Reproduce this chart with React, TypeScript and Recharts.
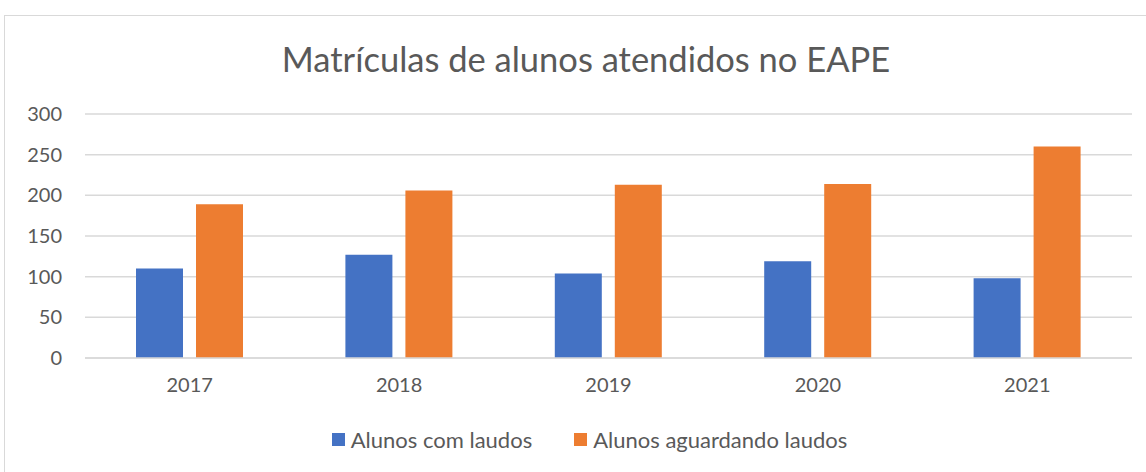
import React from 'react';
import { BarChart, Bar, XAxis, YAxis, CartesianGrid } from 'recharts';

const years = ['2017', '2018', '2019', '2020', '2021'];
const comLaudos = [110, 127, 104, 119, 98];
const aguardandoLaudos = [189, 206, 213, 214, 260];
const yTicks = [0, 50, 100, 150, 200, 250, 300];

const series = [
  { key: 'comLaudos', name: 'Alunos com laudos', color: '#4472C4' },
  { key: 'aguardando', name: 'Alunos aguardando laudos', color: '#ED7D31' },
];

const chartData = years.map((year, i) => ({
  year,
  comLaudos: comLaudos[i],
  aguardando: aguardandoLaudos[i],
}));

const FONT = 'Lato, "Open Sans", sans-serif';
const TEXT = '#595959';

export default function App() {
  return (
    <div style={{ position: 'absolute', left: 0, top: 0, width: 1146, height: 472, background: '#fff', overflow: 'hidden', fontFamily: FONT }}>
      <div style={{ position: 'absolute', left: 4, top: 15, width: 1160, height: 480, border: '1px solid #d9d9d9', boxSizing: 'border-box' }} />
      <div style={{ position: 'absolute', left: 0, top: 36, width: 1172, textAlign: 'center', fontSize: 34.5, color: TEXT, lineHeight: '46px' }}>
        Matrículas de alunos atendidos no EAPE
      </div>

      <div style={{ position: 'absolute', left: 0, top: 0 }}>
        <BarChart
          width={1146}
          height={472}
          data={chartData}
          margin={{ top: 114, right: 14, bottom: 64, left: 0 }}
          barGap={13}
        >
          <CartesianGrid vertical={false} stroke="#d9d9d9" strokeWidth={1.5} />
          <XAxis
            dataKey="year"
            axisLine={{ stroke: '#d9d9d9', strokeWidth: 1.5 }}
            tickLine={false}
            tickSize={0}
            tickMargin={20}
            height={50}
            tick={{ fill: TEXT, fontSize: 20, fontFamily: FONT }}
          />
          <YAxis
            domain={[0, 300]}
            ticks={yTicks}
            width={85}
            axisLine={false}
            tickLine={false}
            tickSize={0}
            tickMargin={23}
            tick={{ fill: TEXT, fontSize: 20, fontFamily: FONT }}
          />
          {series.map((s) => (
            <Bar key={s.key} dataKey={s.key} name={s.name} fill={s.color} barSize={47} isAnimationActive={false} />
          ))}
        </BarChart>
      </div>

      <div style={{ position: 'absolute', left: 0, top: 426, width: 1179, display: 'flex', justifyContent: 'center', fontSize: 22, color: TEXT }}>
        {series.map((s, i) => (
          <div key={s.key} style={{ display: 'flex', alignItems: 'center', marginLeft: i === 0 ? 0 : 42 }}>
            <span style={{ display: 'inline-block', width: 13, height: 13, background: s.color, marginRight: 6 }} />
            <span>{s.name}</span>
          </div>
        ))}
      </div>
    </div>
  );
}
